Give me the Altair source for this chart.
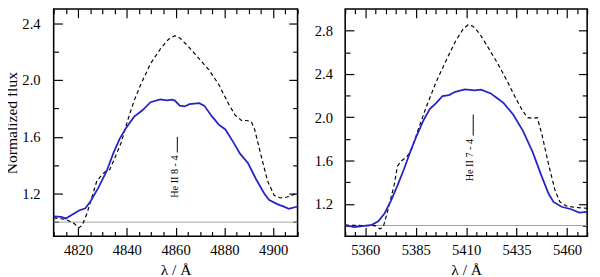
import altair as alt
import pandas as pd

FONT = "Times New Roman, Liberation Serif, DejaVu Serif, serif"
BLUE = "#2323c8"

left_obs_wl = [4810, 4813, 4815, 4817.7, 4820.4, 4823, 4825, 4828.4, 4831.7, 4834.4, 4837, 4839.7,
               4843, 4846.4, 4849.7, 4853.7, 4856.4, 4858.4, 4859.7, 4861.7, 4863.7, 4865.7, 4869.7,
               4871.7, 4875, 4877.7, 4880.4, 4883.7, 4886.4, 4889.7, 4893, 4896.4, 4898.4, 4901.7,
               4904.4, 4906.4, 4910]
left_obs_flux = [1.04, 1.037, 1.026, 1.053, 1.082, 1.098, 1.143, 1.245, 1.358, 1.482, 1.584, 1.663,
                 1.742, 1.787, 1.844, 1.864, 1.857, 1.862, 1.855, 1.82, 1.814, 1.83, 1.837,
                 1.82, 1.742, 1.686, 1.652, 1.561, 1.482, 1.414, 1.302, 1.2, 1.155, 1.127,
                 1.109, 1.094, 1.11]
left_mod_wl = [4810, 4815, 4818.4, 4820.4, 4821.7, 4823.7, 4825.7, 4827.7, 4829.7, 4831, 4833, 4835,
               4837.7, 4840.4, 4843, 4845.7, 4849.7, 4853.7, 4857, 4859.7, 4861.7, 4865, 4869.7,
               4873.7, 4877.7, 4881.7, 4884.4, 4887, 4889, 4891, 4892.4, 4895, 4897.7, 4900.4,
               4903, 4905.7, 4910]
left_mod_flux = [1.03, 1.019, 0.99, 0.96, 0.978, 1.064, 1.177, 1.29, 1.331, 1.353, 1.37, 1.448,
                 1.561, 1.72, 1.855, 1.968, 2.115, 2.217, 2.285, 2.312, 2.296, 2.24, 2.149,
                 2.07, 1.968, 1.832, 1.753, 1.715, 1.715, 1.708, 1.652, 1.471, 1.29, 1.189,
                 1.17, 1.177, 1.204]
right_obs_wl = [5350, 5354.4, 5358.4, 5363.2, 5366.4, 5369.6, 5372.8, 5375.9, 5379.1, 5382.3, 5385.5,
                5388.7, 5391.9, 5395.1, 5398.3, 5401.5, 5404.6, 5409.4, 5414.2, 5417.4, 5422.2,
                5425.4, 5428.6, 5433.3, 5438.1, 5442.9, 5447.7, 5450.9, 5453.3, 5457.3, 5462.1,
                5466.1, 5470]
right_obs_flux = [1.003, 0.985, 0.994, 1.006, 1.039, 1.114, 1.233, 1.368, 1.517, 1.682, 1.831,
                  1.966, 2.076, 2.13, 2.196, 2.205, 2.235, 2.258, 2.249, 2.255, 2.22,
                  2.175, 2.13, 2.025, 1.876, 1.682, 1.442, 1.293, 1.218, 1.173, 1.15,
                  1.119, 1.126]
right_mod_wl = [5350, 5358.4, 5364.8, 5367.2, 5368.8, 5371.2, 5374.4, 5375.9, 5377.6, 5380.7, 5383.1,
                5386.3, 5390.3, 5395.1, 5399.9, 5404.6, 5408.6, 5411, 5413.4, 5416.6, 5420.6,
                5425.4, 5430.2, 5435, 5438.1, 5440.5, 5442.9, 5445.3, 5447.7, 5450.9, 5454.1,
                5456.5, 5459.7, 5463.7, 5470]
right_mod_flux = [1.003, 1.0, 0.999, 0.97, 0.98, 1.143, 1.383, 1.547, 1.592, 1.637, 1.711,
                  1.891, 2.1, 2.325, 2.518, 2.698, 2.818, 2.854, 2.841, 2.773, 2.653,
                  2.504, 2.339, 2.16, 2.056, 1.996, 1.99, 1.996, 1.831, 1.562, 1.323,
                  1.218, 1.18, 1.168, 1.159]

left_xticks = [4820, 4840, 4860, 4880, 4900]
left_yticks = [1.2, 1.6, 2.0, 2.4]
left_yminor = [1.0, 1.4, 1.8, 2.2]
right_xticks = [5360, 5385, 5410, 5435, 5460]
right_yticks = [1.2, 1.6, 2.0, 2.4, 2.8]
right_yminor = [1.0, 1.4, 1.8, 2.2, 2.6]

left_label = "He II 8 - 4"
left_line_wl, left_line_top, left_line_bot = 4860.7, 1.60, 1.49
left_text_wl, left_text_y = 4859.6, 1.47
right_label = "He II 7 - 4"
right_line_wl, right_line_top, right_line_bot = 5413.5, 2.025, 1.83
right_text_wl, right_text_y = 5412.0, 1.80

continuum = [1.0]


def minor_of(lo, hi, step, majors):
    vals = []
    v = lo
    while v <= hi:
        if all(abs(v - m) > 1e-6 for m in majors):
            vals.append(v)
        v += step
    return vals


def tick_axis(orient, values, size):
    return alt.Axis(orient=orient, values=values, tickSize=alt.ExprRef(expr=str(-size)),
                    labels=False, grid=False, domain=False, tickColor="black",
                    tickWidth=1.2, title=None)


def panel(obs_wl, obs_f, mod_wl, mod_f, xdom, ydom, xmaj, ymaj, ymin, label,
          lwl, ltop, lbot, twl, ty, ytitle, w, h, ylabpad):
    xmin_ = minor_of(xdom[0], xdom[1], 5, xmaj)
    obs = pd.DataFrame({"wl": obs_wl, "flux": obs_f})
    mod = pd.DataFrame({"wl": mod_wl, "flux": mod_f})
    cont = pd.DataFrame({"c": continuum})
    ann = pd.DataFrame({"wl": [lwl], "top": [ltop], "bot": [lbot]})
    txt = pd.DataFrame({"wl": [twl], "y": [ty], "label": [label]})
    xs = alt.Scale(domain=xdom, nice=False, zero=False)
    ys = alt.Scale(domain=ydom, nice=False, zero=False)

    lab = dict(labelFont=FONT, labelFontSize=15, labelColor="black",
               titleFont=FONT, titleFontSize=16, titleFontWeight="normal", titleColor="black")
    yax_kw = dict(orient="left", values=ymaj, ticks=False, grid=False, domain=False,
                  labelPadding=ylabpad, format=".1f", title=ytitle, **lab)
    if ytitle:
        yax_kw.update(titlePadding=2)

    model = alt.Chart(mod).mark_line(color="black", strokeWidth=1.2, strokeDash=[4, 3]).encode(
        x=alt.X("wl:Q", scale=xs,
                axis=alt.Axis(orient="bottom", values=xmaj, ticks=False, grid=False,
                              domain=False, labelPadding=7, format="d", title="λ / Å",
                              titlePadding=4, **lab)),
        y=alt.Y("flux:Q", scale=ys, axis=alt.Axis(**yax_kw)),
    )
    observed = alt.Chart(obs).mark_line(color=BLUE, strokeWidth=1.8).encode(
        x=alt.X("wl:Q", scale=xs, axis=tick_axis("bottom", xmaj, 9)),
        y=alt.Y("flux:Q", scale=ys, axis=tick_axis("left", ymaj, 9)),
    )
    obs2 = alt.Chart(obs).mark_line(opacity=0).encode(
        x=alt.X("wl:Q", scale=xs, axis=tick_axis("bottom", xmin_, 5)),
        y=alt.Y("flux:Q", scale=ys, axis=tick_axis("left", ymin, 5)),
    )
    contline = alt.Chart(cont).mark_rule(color="#a0a0a0", strokeWidth=1).encode(
        y=alt.Y("c:Q", scale=ys, axis=tick_axis("right", ymaj, 9)),
    )
    xtop = alt.Chart(ann).mark_rule(color="black", strokeWidth=1).encode(
        x=alt.X("wl:Q", scale=xs, axis=tick_axis("top", xmaj, 9)),
        y=alt.Y("top:Q", scale=ys, axis=tick_axis("right", ymin, 5)),
        y2="bot:Q",
    )
    xtop2 = alt.Chart(ann).mark_rule(opacity=0).encode(
        x=alt.X("wl:Q", scale=xs, axis=tick_axis("top", xmin_, 5)),
        y=alt.Y("top:Q", scale=ys, axis=None),
    )
    text = alt.Chart(txt).mark_text(font=FONT, fontSize=10.5, angle=270, align="right",
                                    baseline="middle", color="black").encode(
        x=alt.X("wl:Q", scale=xs, axis=None),
        y=alt.Y("y:Q", scale=ys, axis=None),
        text="label:N",
    )
    return alt.layer(contline, model, observed, obs2, xtop, xtop2, text).resolve_axis(
        x="independent", y="independent").properties(width=w, height=h)


left = panel(left_obs_wl, left_obs_flux, left_mod_wl, left_mod_flux, [4810, 4910], [0.9, 2.5],
             left_xticks, left_yticks, left_yminor, left_label,
             left_line_wl, left_line_top, left_line_bot, left_text_wl, left_text_y,
             "Normalized flux", 251, 234, 14)
right = panel(right_obs_wl, right_obs_flux, right_mod_wl, right_mod_flux, [5350, 5470], [0.9, 3.0],
              right_xticks, right_yticks, right_yminor, right_label,
              right_line_wl, right_line_top, right_line_bot, right_text_wl, right_text_y,
              None, 249, 234, 13)

chart = alt.hconcat(left, right, spacing=11).properties(
    padding={"left": -5, "top": -5, "right": 0, "bottom": 0},
    background="white",
).configure_view(stroke="black", strokeWidth=1.6)

chart.save("out.html", embed_options={"renderer": "svg", "actions": False})
